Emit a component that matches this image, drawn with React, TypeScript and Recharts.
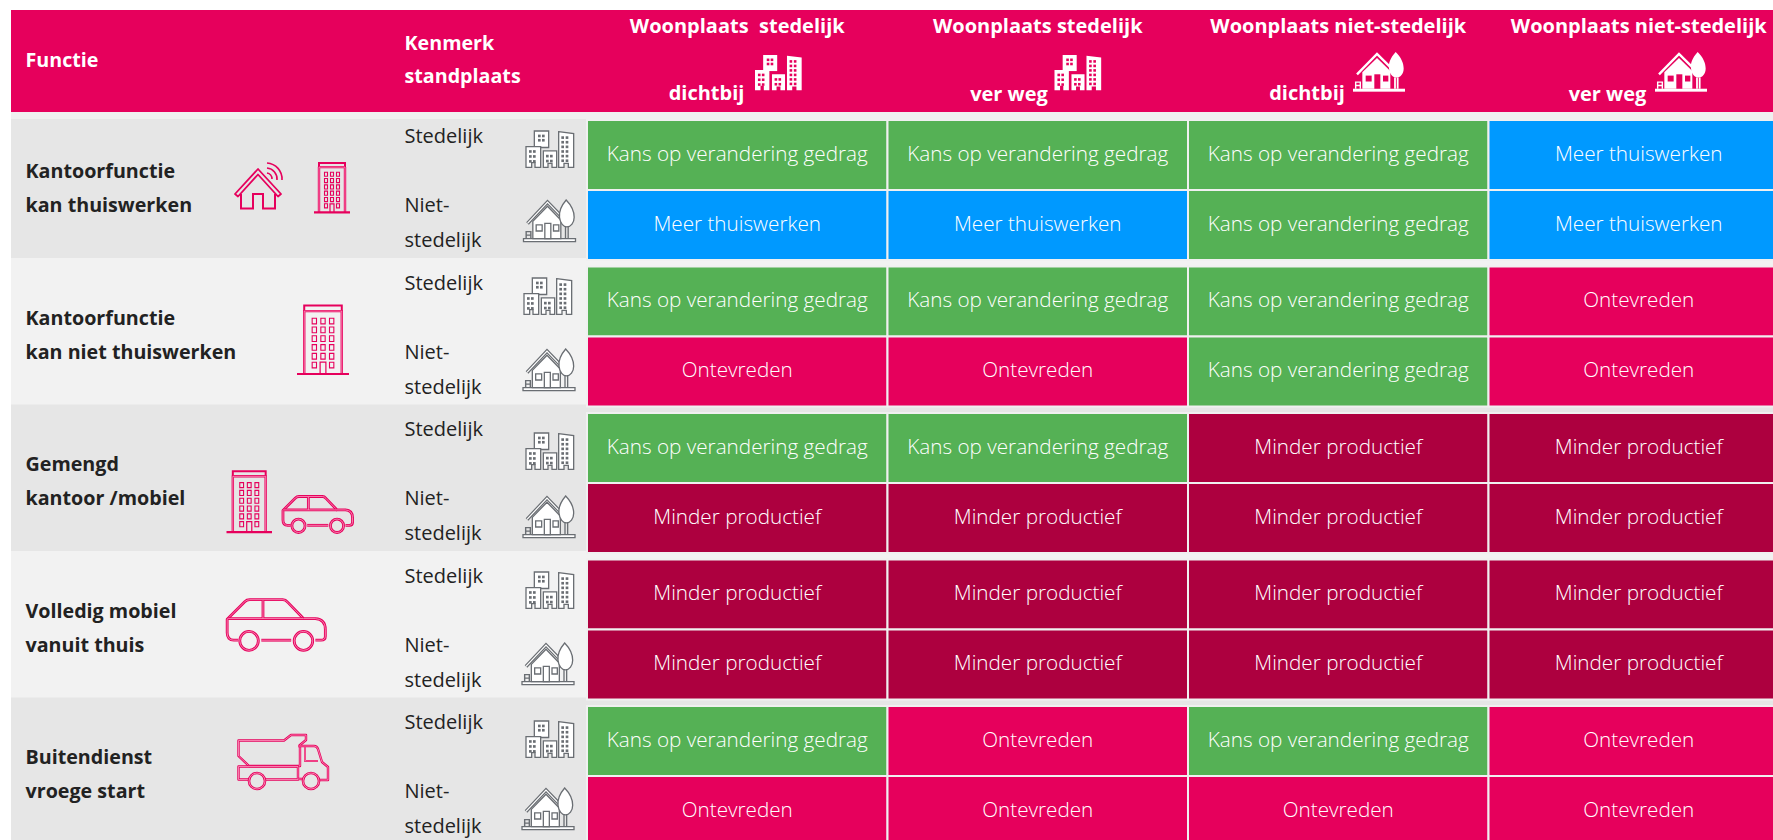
import React from 'react';
import { BarChart, Bar, XAxis, YAxis, Cell, LabelList } from 'recharts';

const FONT = '"Open Sans", "Noto Sans", sans-serif';
const PINK = '#e6005c', GREEN = '#55b155', BLUE = '#0099ff', DARK = '#ad003f';

const columnTitles = ['Woonplaats  stedelijk', 'Woonplaats stedelijk', 'Woonplaats niet-stedelijk', 'Woonplaats niet-stedelijk'];
const columnSubtitles = ['dichtbij', 'ver weg', 'dichtbij', 'ver weg'];
const functies = [
  ['Kantoorfunctie', 'kan thuiswerken'],
  ['Kantoorfunctie', 'kan niet thuiswerken'],
  ['Gemengd', 'kantoor /mobiel'],
  ['Volledig mobiel', 'vanuit thuis'],
  ['Buitendienst', 'vroege start'],
];
const K = 'Kans op verandering gedrag', M = 'Meer thuiswerken', O = 'Ontevreden', P = 'Minder productief';
const outcomeColors: Record<string, string> = { [K]: GREEN, [M]: BLUE, [O]: PINK, [P]: DARK };

const col1 = [K, M, K, O, K, P, P, P, K, O];
const col2 = [K, M, K, O, K, P, P, P, O, O];
const col3 = [K, K, K, K, P, P, P, P, K, O];
const col4 = [M, M, O, O, P, P, P, P, O, O];
const columns = [col1, col2, col3, col4];

// layout: row position in group units
const GROUP_PX = 146.5;
const ROW_STEP = 70 / GROUP_PX;
const ROW_OFFSET = 36 / GROUP_PX;
const rows = col1.map((_, i) => {
  const g = Math.floor(i / 2), r = i % 2;
  return {
    pos: g + r * ROW_STEP + ROW_OFFSET,
    idx: i,
    v0: 1, v1: 1, v2: 1, v3: 1,
    l0: col1[i], l1: col2[i], l2: col3[i], l3: col4[i],
  };
});

const cityTop = [-24, -23.5, -15, -22.5, -20];
const villageTop = [-25, -22.5, -22, -21.5, -23];
const cityX = [526, 524, 526, 526, 526];
const villageX = [523.5, 523, 523, 522, 522];

const GREY = '#6a6e73';
const W = '#ffffff';
const INNER = '#ffb3d0';

function Dbl({ d, color, w = 2.8, inner = INNER, iw = 0.7 }: any) {
  return (
    <g fill="none" strokeLinejoin="round">
      <path d={d} stroke={color} strokeWidth={w} vectorEffect="non-scaling-stroke" />
      {iw > 0 && <path d={d} stroke={inner} strokeWidth={iw} vectorEffect="non-scaling-stroke" />}
    </g>
  );
}

function City({ x, y, solid }: any) {
  const sx = solid ? 47 / 144 : 48 / 144;
  const sy = solid ? 36 / 112 : 37 / 112;
  const fill = W;
  const stroke = solid ? 'none' : GREY;
  const win = solid ? PINK : GREY;
  const windows: React.ReactNode[] = [];
  const grid = (x0: number, y0: number, nx: number, ny: number, dx: number, dy: number) => {
    for (let i = 0; i < nx; i++) for (let j = 0; j < ny; j++) {
      windows.push(<rect key={`${x0}-${y0}-${i}-${j}`} x={x0 + i * dx} y={y0 + j * dy} width={8} height={8} fill={win} />);
    }
  };
  grid(36, 11, 2, 2, 12, 13);
  grid(9, 58, 2, 3, 12, 15);
  grid(60, 72, 2, 2, 12, 15);
  grid(106, 16, 2, 6, 13, 14);
  const sw = solid ? 0 : 1.3;
  return (
    <g transform={`translate(${x},${y}) scale(${sx},${sy})`}>
      <path d="M25,0 H68 V50 H25 Z" fill={fill} stroke={stroke} strokeWidth={sw} vectorEffect="non-scaling-stroke" />
      <path d="M0,47 H44 V110 H27 V96 H17 V110 H0 Z" fill={fill} stroke={stroke} strokeWidth={sw} vectorEffect="non-scaling-stroke" />
      <path d="M52,60 H92 V110 H78 V98 H66 V110 H52 Z" fill={fill} stroke={stroke} strokeWidth={sw} vectorEffect="non-scaling-stroke" />
      <path d="M98,2 L143,8 V110 H127 V98 H114 V110 H98 Z" fill={fill} stroke={stroke} strokeWidth={sw} vectorEffect="non-scaling-stroke" />
      {windows}
    </g>
  );
}

function Village({ x, y, solid }: any) {
  const sx = 52 / 156, sy = (solid ? 40 : 42) / 122;
  const sw = solid ? 0 : 1.3;
  const stroke = solid ? 'none' : GREY;
  const inner = solid ? PINK : GREY;
  return (
    <g transform={`translate(${x},${y}) scale(${sx},${sy})`}>
      <rect x={0} y={112} width={156} height={9} fill={W} stroke={stroke} strokeWidth={sw} vectorEffect="non-scaling-stroke" />
      <path d="M28,62 L72,18 L112,58 V112 H28 Z" fill={W} stroke={stroke} strokeWidth={sw} vectorEffect="non-scaling-stroke" />
      <path d="M12,68 L72,6 L112,46" fill="none" stroke={solid ? W : GREY} strokeWidth={solid ? 2.4 : 3.6} vectorEffect="non-scaling-stroke" />
      {!solid && <path d="M12,68 L72,6 L112,46" fill="none" stroke={W} strokeWidth={1.2} vectorEffect="non-scaling-stroke" />}
      <rect x={38} y={72} width={18} height={18} fill={solid ? PINK : 'none'} stroke={inner} strokeWidth={sw} vectorEffect="non-scaling-stroke" />
      <rect x={64} y={68} width={18} height={44} fill={solid ? PINK : 'none'} stroke={inner} strokeWidth={sw} vectorEffect="non-scaling-stroke" />
      <rect x={90} y={72} width={16} height={18} fill={solid ? PINK : 'none'} stroke={inner} strokeWidth={sw} vectorEffect="non-scaling-stroke" />
      <path d="M128,0 C112,18 106,34 108,50 C110,68 120,78 130,78 C142,78 152,66 152,50 C152,34 144,16 128,0 Z" fill={W} stroke={stroke} strokeWidth={sw} vectorEffect="non-scaling-stroke" />
      <path d="M126,78 V112 M134,78 V112" fill="none" stroke={solid ? W : GREY} strokeWidth={solid ? 1.8 : 1.3} vectorEffect="non-scaling-stroke" />
      <path d="M8,112 V92 H22 V112 M6,102 H24" fill="none" stroke={solid ? W : GREY} strokeWidth={1.4} vectorEffect="non-scaling-stroke" />
    </g>
  );
}

function PinkBuilding({ x, y, w, h }: any) {
  const windows: React.ReactNode[] = [];
  for (let c = 0; c < 3; c++) for (let r = 0; r < 6; r++) {
    if (r === 5 && c === 1) continue;
    windows.push(<rect key={`${c}-${r}`} x={10.5 + c * 6} y={10 + r * 6.2} width={3} height={4} fill="none" stroke={PINK} strokeWidth={1.1} vectorEffect="non-scaling-stroke" />);
  }
  return (
    <g transform={`translate(${x},${y}) scale(${w / 36},${h / 50})`}>
      <path d="M5,5 V1 H31 V5" fill="none" stroke={PINK} strokeWidth={2} vectorEffect="non-scaling-stroke" />
      <Dbl d="M5,49 V5 H31 V49" color={PINK} w={2.4} />
      <path d="M0,49.3 H36" fill="none" stroke={PINK} strokeWidth={2.2} vectorEffect="non-scaling-stroke" />
      <path d="M16,49 V41 H20 V49" fill="none" stroke={PINK} strokeWidth={1.2} vectorEffect="non-scaling-stroke" />
      {windows}
    </g>
  );
}

function PinkHouse({ x, y }: any) {
  return (
    <g transform={`translate(${x},${y})`}>
      <path d="M1,32 L24,7 L47,32 L44,34.5 L24,12.5 L4,34.5 Z" fill="none" stroke={PINK} strokeWidth={1.8} strokeLinejoin="round" />
      <path d="M7,32 V46.5 H19 V32 H29 V46.5 H41 V32" fill="none" stroke={PINK} strokeWidth={2} />
      <path d="M33,1 A16,16 0 0 1 48,18 M33,6 A11,11 0 0 1 43,18 M33,11 A6,6 0 0 1 38,17" fill="none" stroke={PINK} strokeWidth={1.6} />
    </g>
  );
}

function PinkCar({ x, y, w, h }: any) {
  return (
    <g transform={`translate(${x},${y}) scale(${w / 300},${h / 154})`}>
      <Dbl d="M35,122 H22 Q2,122 2,100 V60 L55,8 Q61,2 70,2 H170 Q178,2 185,10 L232,58 H268 Q298,60 298,90 V110 Q298,122 285,122 H268" color={PINK} />
      <Dbl d="M105,122 H195" color={PINK} />
      <Dbl d="M5,58 H232 M110,4 V58" color={PINK} />
      {[68, 232].map((cx) => (
        <g key={cx} fill="none">
          <ellipse cx={cx} cy={124} rx={28} ry={28} stroke={PINK} strokeWidth={2.8} vectorEffect="non-scaling-stroke" />
          <ellipse cx={cx} cy={124} rx={28} ry={28} stroke={INNER} strokeWidth={0.7} vectorEffect="non-scaling-stroke" />
        </g>
      ))}
    </g>
  );
}

function PinkTruck({ x, y }: any) {
  return (
    <g transform={`translate(${x},${y})`}>
      <Dbl d="M0.5,6.5 H46 L53,1 H68 V6 L62,11 V32 H11 L0.5,22 Z" color={PINK} w={2.4} />
      <Dbl d="M11,45.5 H0.5 V32.5 H60 V45.5 H27" color={PINK} w={2.4} />
      <Dbl d="M60,12 H76 Q79,12 80,15 L84,28 L90,33 V46 H82 M64,45 H60" color={PINK} w={2.4} />
      <Dbl d="M67,13 V27 H80" color={PINK} w={1.8} />
      {[19, 73].map((cx) => (
        <g key={cx} fill="none">
          <circle cx={cx} cy={47} r={8} stroke={PINK} strokeWidth={2.6} />
          <circle cx={cx} cy={47} r={8} stroke={INNER} strokeWidth={0.7} />
        </g>
      ))}
    </g>
  );
}

const txt = { fontFamily: FONT };

function ColumnTick(props: any) {
  const { payload } = props;
  const i = Math.floor(payload.value);
  const cx = 737.25 + i * 300.5;
  const subCenter = [706.5, 1009, 1307, 1607.5][i];
  const iconX = [755, 1054.5, 1353, 1655][i];
  const subY = [100, 101, 100, 101][i];
  return (
    <g style={txt}>
      <text x={cx} y={33} textAnchor="middle" fill="#fff" fontSize={20} fontWeight={700} xmlSpace="preserve" style={{ whiteSpace: 'pre' }}>{columnTitles[i]}</text>
      <text x={subCenter} y={subY} textAnchor="middle" fill="#fff" fontSize={20} fontWeight={700}>{columnSubtitles[i]}</text>
      {i < 2 ? <City x={iconX} y={55} solid /> : <Village x={iconX} y={52} solid />}
    </g>
  );
}

function RowTick(props: any) {
  const { y, payload } = props;
  const row = rows.find((d) => Math.abs(d.pos - payload.value) < 1e-6);
  if (!row) return null;
  const g = Math.floor(row.idx / 2);
  const urban = row.idx % 2 === 0;
  const s = { fontFamily: FONT, fontSize: 20, fill: '#222' };
  return urban ? (
    <g>
      <text x={404.5} y={y - 12} {...s}>Stedelijk</text>
      <City x={cityX[g]} y={y + cityTop[g]} />
    </g>
  ) : (
    <g>
      <text x={404.5} y={y - 13} {...s}>Niet-</text>
      <text x={404.5} y={y + 22} {...s}>stedelijk</text>
      <Village x={villageX[g]} y={y + villageTop[g]} />
    </g>
  );
}

export default function App() {
  return (
    <div style={{ position: 'absolute', left: 0, top: 0, width: 1773, height: 840, overflow: 'hidden', background: '#fff' }}>
      <BarChart width={1789} height={840} data={rows} layout="vertical" margin={{ top: 0, right: 0, bottom: 0, left: 0 }} barCategoryGap={0}>
        <rect x={11} y={10} width={1778} height={102} fill={PINK} />
        <rect x={11} y={112} width={1778} height={7} fill="#f0f0f0" />
        {functies.map((_, g) => {
          const top = g === 0 ? 119 : 258 + (g - 1) * GROUP_PX;
          const bottom = 258 + g * GROUP_PX;
          return <rect key={g} x={11} y={top} width={1778} height={bottom - top + 0.5} fill={g % 2 === 0 ? '#e6e6e6' : '#f2f2f2'} />;
        })}
        <g style={txt} fontWeight={700} fontSize={19.7}>
          <text x={25.5} y={67} fill="#fff">Functie</text>
          <text x={404.5} y={50} fill="#fff">Kenmerk</text>
          <text x={404.5} y={83} fill="#fff">standplaats</text>
          {functies.map((lines, g) => (
            <g key={g} fill="#222">
              <text x={25.5} y={178 + g * GROUP_PX}>{lines[0]}</text>
              <text x={25.5} y={212 + g * GROUP_PX}>{lines[1]}</text>
            </g>
          ))}
        </g>
        <PinkHouse x={234} y={162} />
        <PinkBuilding x={314} y={162} w={36} h={51} />
        <PinkBuilding x={297} y={304} w={52} h={71} />
        <PinkBuilding x={226.5} y={470} w={45.5} h={63} />
        <PinkCar x={282.5} y={496} w={70.5} h={37} />
        <PinkCar x={226.5} y={599} w={99.5} h={52} />
        <PinkTruck x={238} y={734} />
        <XAxis type="number" orientation="top" domain={[0, 4]} ticks={[0.5, 1.5, 2.5, 3.5]} height={119} axisLine={false} tickLine={false} tick={ColumnTick} interval={0} />
        <YAxis type="number" dataKey="pos" domain={[0, 721 / GROUP_PX]} width={587} ticks={rows.map((r) => r.pos)} interval={0} axisLine={false} tickLine={false} tick={RowTick} />
        {columns.map((col, c) => (
          <Bar key={c} dataKey={`v${c}`} stackId="cells" barSize={69.9} stroke="#f0f0f0" strokeWidth={2} isAnimationActive={false}>
            {col.map((o, i) => <Cell key={i} fill={outcomeColors[o]} />)}
            <LabelList dataKey={`l${c}`} position="center" fill="#fff" dy={-1.5} style={{ fontFamily: FONT, fontSize: 20.7, fontWeight: 350 }} />
          </Bar>
        ))}
      </BarChart>
    </div>
  );
}
